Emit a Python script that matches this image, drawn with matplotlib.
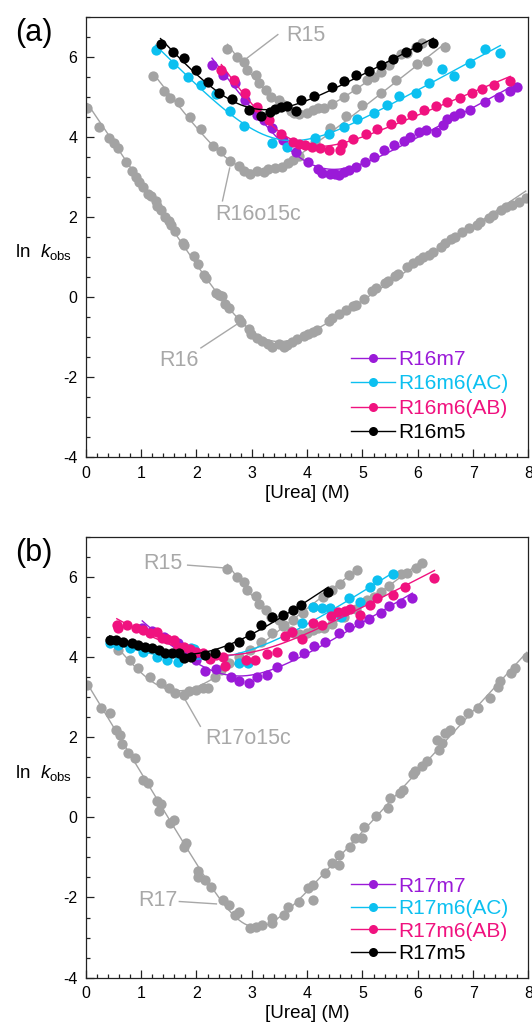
import numpy as np
import matplotlib
matplotlib.use('Agg')
import matplotlib.pyplot as plt
from matplotlib.lines import Line2D
from matplotlib.ticker import MultipleLocator

plt.rcParams['font.family'] = ['Liberation Sans', 'DejaVu Sans']
plt.rcParams['mathtext.fontset'] = 'custom'
plt.rcParams['mathtext.rm'] = 'Liberation Sans'
plt.rcParams['mathtext.it'] = 'Liberation Sans:italic'
plt.rcParams['axes.unicode_minus'] = False

# ---------------- data: panel (a) ----------------
R15_x = [2.56, 2.74, 2.86, 2.92, 3.07, 3.13, 3.25, 3.34, 3.49, 3.58, 3.70, 3.76, 3.86, 3.99,
         4.11, 4.20, 4.30, 4.45, 4.67, 4.88, 5.09, 5.20, 5.33, 5.48, 5.69, 5.80, 5.96, 6.08]
R15_y = [6.19, 5.99, 5.86, 5.66, 5.53, 5.33, 5.16, 5.00, 4.92, 4.80, 4.65, 4.60, 4.58, 4.60,
         4.67, 4.72, 4.72, 4.83, 5.00, 5.20, 5.41, 5.50, 5.62, 5.78, 6.07, 6.10, 6.23, 6.35]

R16_x = [0.03, 0.24, 0.42, 0.51, 0.58, 0.72, 0.84, 0.90, 0.96, 1.04, 1.13, 1.17, 1.26, 1.29, 1.36,
         1.44, 1.50, 1.54, 1.62, 1.75, 1.78, 1.96, 2.02, 2.14, 2.18, 2.36, 2.41, 2.47, 2.51, 2.59,
         2.77, 2.80, 2.95, 2.98, 3.10, 3.19, 3.30, 3.37, 3.50, 3.58, 3.64, 3.72, 3.82, 3.95, 4.02,
         4.10, 4.18, 4.39, 4.45, 4.58, 4.70, 4.82, 4.88, 5.02, 5.18, 5.25, 5.40, 5.47, 5.58, 5.65,
         5.81, 5.92, 6.02, 6.10, 6.20, 6.28, 6.42, 6.50, 6.60, 6.68, 6.80, 6.92, 7.07, 7.12, 7.28,
         7.35, 7.50, 7.60, 7.71, 7.82, 7.95]
R16_y = [4.71, 4.25, 3.96, 3.84, 3.72, 3.38, 3.15, 3.00, 2.88, 2.74, 2.56, 2.51, 2.40, 2.27, 2.18,
         2.00, 1.90, 1.80, 1.64, 1.36, 1.30, 1.02, 0.83, 0.55, 0.48, 0.10, 0.05, 0.02, -0.18, -0.28,
         -0.55, -0.62, -0.80, -0.92, -1.03, -1.10, -1.18, -1.24, -1.18, -1.24, -1.20, -1.13, -1.05, -0.98, -0.93,
         -0.87, -0.82, -0.60, -0.52, -0.42, -0.32, -0.22, -0.19, -0.04, 0.14, 0.22, 0.36, 0.40, 0.52, 0.58,
         0.76, 0.86, 0.93, 0.99, 1.06, 1.12, 1.25, 1.34, 1.45, 1.51, 1.62, 1.72, 1.80, 1.88, 1.97,
         2.05, 2.17, 2.25, 2.30, 2.38, 2.48]

R16o15c_x = [1.22, 1.41, 1.53, 1.68, 1.88, 2.09, 2.30, 2.45, 2.60, 2.76, 2.86, 2.97, 3.10, 3.22, 3.30,
             3.42, 3.55, 3.65, 3.75, 3.86, 4.15, 4.42, 4.70, 5.00, 5.33, 5.60, 5.99, 6.17, 6.50]
R16o15c_y = [5.52, 5.15, 4.96, 4.88, 4.50, 4.20, 3.78, 3.64, 3.40, 3.26, 3.14, 3.08, 3.14, 3.12, 3.20,
             3.22, 3.25, 3.35, 3.42, 3.52, 3.87, 4.22, 4.51, 4.79, 5.08, 5.41, 5.82, 5.88, 6.24]

R16m7_x = [2.28, 2.48, 2.70, 2.88, 3.10, 3.22, 3.37, 3.56, 3.80, 4.02, 4.20, 4.26, 4.41, 4.50, 4.57,
           4.66, 4.76, 4.88, 5.05, 5.20, 5.39, 5.57, 5.75, 5.86, 6.02, 6.14, 6.32, 6.45, 6.53, 6.65,
           6.77, 6.95, 7.22, 7.46, 7.67, 7.80]
R16m7_y = [5.79, 5.54, 5.33, 4.92, 4.54, 4.42, 4.21, 3.92, 3.63, 3.38, 3.20, 3.10, 3.06, 3.06, 3.05,
           3.13, 3.18, 3.25, 3.38, 3.50, 3.66, 3.79, 3.90, 4.00, 4.12, 4.16, 4.13, 4.30, 4.45, 4.52,
           4.60, 4.68, 4.86, 5.00, 5.15, 5.25]

R16m6AC_x = [1.26, 1.57, 1.84, 2.08, 2.36, 2.60, 2.86, 3.36, 3.63, 4.14, 4.39, 4.67, 4.90, 5.21,
             5.44, 5.66, 5.96, 6.20, 6.44, 6.65, 6.95, 7.22, 7.49]
R16m6AC_y = [6.17, 5.82, 5.48, 5.30, 5.06, 4.65, 4.28, 3.85, 3.74, 3.98, 4.08, 4.24, 4.44, 4.60,
             4.80, 5.02, 5.10, 5.35, 5.68, 5.52, 5.84, 6.18, 6.08]

R16m6AB_x = [2.45, 2.67, 2.88, 3.10, 3.31, 3.53, 3.74, 3.86, 3.97, 4.09, 4.24, 4.40, 4.60, 4.63,
             4.82, 5.06, 5.27, 5.51, 5.69, 5.90, 6.11, 6.32, 6.53, 6.77, 6.98, 7.16, 7.37, 7.67]
R16m6AB_y = [5.67, 5.42, 5.08, 4.75, 4.42, 4.08, 3.88, 3.83, 3.80, 3.75, 3.72, 3.66, 3.66, 3.83,
             3.95, 4.08, 4.20, 4.32, 4.44, 4.55, 4.67, 4.77, 4.88, 4.97, 5.10, 5.20, 5.28, 5.40]

R16m5_x = [1.35, 1.57, 1.78, 1.99, 2.20, 2.41, 2.65, 2.95, 3.16, 3.32, 3.42, 3.52, 3.64, 3.80,
           3.89, 4.12, 4.45, 4.67, 4.89, 5.12, 5.33, 5.56, 5.78, 5.99, 6.28]
R16m5_y = [6.31, 6.11, 5.97, 5.66, 5.37, 5.08, 4.94, 4.67, 4.53, 4.62, 4.70, 4.75, 4.78, 4.65,
           4.92, 5.02, 5.23, 5.40, 5.53, 5.65, 5.80, 5.94, 6.11, 6.25, 6.35]

# ---------------- data: panel (b) ----------------
R17_x = [0.03, 0.28, 0.43, 0.55, 0.61, 0.66, 0.77, 0.89, 1.04, 1.13, 1.28, 1.35, 1.32, 1.53, 1.59,
         1.78, 1.81, 2.02, 2.02, 2.15, 2.27, 2.48, 2.58, 2.70, 2.76, 2.97, 3.07, 3.19, 3.37, 3.37,
         3.59, 3.65, 3.86, 4.02, 4.11, 4.11, 4.32, 4.45, 4.57, 4.57, 4.78, 4.87, 5.00, 5.03, 5.24,
         5.46, 5.49, 5.67, 5.73, 5.92, 5.95, 6.07, 6.16, 6.38, 6.44, 6.35, 6.50, 6.59, 6.77, 6.90,
         7.08, 7.30, 7.45, 7.48, 7.69, 7.76, 7.97]
R17_y = [3.30, 2.72, 2.60, 2.18, 2.06, 1.84, 1.60, 1.48, 0.94, 0.86, 0.40, 0.32, 0.15, -0.14, -0.06,
         -0.73, -0.64, -1.35, -1.48, -1.56, -1.73, -2.06, -2.18, -2.43, -2.35, -2.77, -2.73, -2.68, -2.52, -2.64,
         -2.43, -2.23, -2.10, -1.77, -1.68, -2.06, -1.39, -1.14, -1.18, -0.93, -0.73, -0.52, -0.52, -0.23, 0.03,
         0.23, 0.48, 0.61, 0.69, 1.07, 1.15, 1.28, 1.40, 1.69, 1.86, 1.93, 2.10, 2.18, 2.43, 2.60,
         2.72, 2.97, 3.26, 3.39, 3.59, 3.72, 4.00]

R17o15c_x = [0.43, 0.58, 0.80, 0.95, 1.16, 1.35, 1.50, 1.62, 1.78, 1.87, 1.99, 2.12, 2.21, 2.33,
             2.45, 2.58, 2.76, 2.97, 3.16, 3.37, 3.56, 3.74, 3.92, 4.11, 4.29, 4.45, 4.60, 4.75, 4.90]
R17o15c_y = [4.42, 4.17, 3.92, 3.72, 3.51, 3.34, 3.22, 3.10, 3.05, 3.14, 3.18, 3.22, 3.22, 3.51,
             3.68, 3.84, 4.00, 4.17, 4.38, 4.59, 4.76, 4.92, 5.09, 5.25, 5.50, 5.67, 5.83, 6.04, 6.17]

R17m7_x = [1.02, 1.20, 1.41, 1.66, 1.87, 1.99, 2.15, 2.35, 2.62, 2.77, 2.95, 3.10, 3.28, 3.46,
           3.74, 3.95, 4.12, 4.33, 4.57, 4.76, 4.94, 5.12, 5.33, 5.48, 5.69, 5.90]
R17m7_y = [4.72, 4.64, 4.50, 4.34, 4.09, 3.93, 3.65, 3.70, 3.50, 3.40, 3.35, 3.50, 3.55, 3.75,
           4.02, 4.10, 4.28, 4.38, 4.60, 4.75, 4.85, 4.95, 5.10, 5.26, 5.35, 5.47]

R17m6AC_x = [0.43, 0.58, 0.80, 1.04, 1.29, 1.47, 1.66, 1.90, 1.96, 2.76, 2.94, 3.90, 4.11, 4.26,
             4.41, 4.62, 4.76, 4.95, 5.13, 5.26, 5.55]
R17m6AC_y = [4.34, 4.30, 4.22, 4.13, 4.00, 3.93, 3.88, 4.22, 4.20, 3.84, 3.84, 4.84, 5.25, 5.21,
             5.21, 5.00, 5.46, 5.38, 5.75, 5.93, 6.07]

R17m6AB_x = [0.56, 0.58, 0.74, 0.90, 1.04, 1.16, 1.29, 1.37, 1.47, 1.59, 1.66, 1.78, 1.88, 1.99,
             2.12, 2.24, 2.36, 2.48, 2.51, 2.90, 3.05, 3.27, 3.45, 3.60, 3.72, 3.90, 4.11, 4.26,
             4.44, 4.56, 4.68, 4.77, 4.95, 5.13, 5.27, 5.55, 5.77, 6.30]
R17m6AB_y = [4.80, 4.72, 4.80, 4.72, 4.67, 4.60, 4.63, 4.47, 4.46, 4.42, 4.26, 4.26, 4.20, 4.13,
             4.09, 3.95, 4.05, 4.01, 3.78, 3.93, 3.93, 4.07, 4.13, 4.53, 4.61, 4.45, 4.84, 4.80,
             5.02, 5.12, 5.15, 5.20, 5.05, 5.30, 5.46, 5.55, 5.75, 5.98]

R17m5_x = [0.43, 0.55, 0.67, 0.83, 0.95, 1.07, 1.20, 1.32, 1.44, 1.56, 1.69, 1.78, 1.90, 2.15,
           2.33, 2.58, 2.76, 2.97, 3.16, 3.37, 3.56, 3.74, 3.89, 4.38]
R17m5_y = [4.42, 4.42, 4.38, 4.34, 4.30, 4.26, 4.22, 4.17, 4.09, 4.09, 4.09, 3.97, 4.00, 4.05,
           4.09, 4.26, 4.38, 4.55, 4.80, 5.00, 5.05, 5.17, 5.29, 5.63]

LABELS_A = ['R16m7', 'R16m6(AC)', 'R16m6(AB)', 'R16m5']
LABELS_B = ['R17m7', 'R17m6(AC)', 'R17m6(AB)', 'R17m5']

GREY = '#A3A3A3'
TXTGREY = '#A8A8A8'
PURPLE = '#9A1AD8'
CYAN = '#0CC0F0'
MAGENTA = '#F0127F'
BLACK = '#000000'


def chevron_fit(x, y):
    x = np.asarray(x, float)
    y = np.asarray(y, float)
    i = int(np.argmin(y))
    xm = x[i]
    L = x <= xm
    R = x >= xm
    b1, a1 = np.polyfit(x[L], y[L], 1)
    b2, a2 = np.polyfit(x[R], y[R], 1)
    p = np.array([a1, b1, a2, b2], float)

    def model(p, xx):
        return np.logaddexp(p[0] + p[1] * xx, p[2] + p[3] * xx)

    lam = 1e-2
    cost = np.sum((y - model(p, x)) ** 2)
    for _ in range(300):
        u = p[0] + p[1] * x
        v = p[2] + p[3] * x
        w = 1.0 / (1.0 + np.exp(np.clip(v - u, -50, 50)))
        J = np.column_stack([w, w * x, 1 - w, (1 - w) * x])
        r = y - model(p, x)
        A = J.T @ J
        g = J.T @ r
        try:
            dp = np.linalg.solve(A + lam * np.diag(np.diag(A) + 1e-9), g)
        except np.linalg.LinAlgError:
            break
        pn = p + dp
        cn = np.sum((y - model(pn, x)) ** 2)
        if cn < cost:
            p, cost = pn, cn
            lam *= 0.5
        else:
            lam *= 4
    return lambda xx: model(p, xx)


def draw_series(ax, x, y, color, ms=7.4, lw=1.0, z=2):
    f = chevron_fit(x, y)
    xf = np.linspace(min(x), max(x), 300)
    ax.plot(xf, f(xf), color=color, lw=lw, zorder=z)
    ax.plot(x, y, 'o', color=color, ms=ms, mec='none', zorder=z + 0.5)


def style_axes(ax):
    ax.set_xlim(0, 8)
    ax.set_ylim(-4, 7)
    ax.xaxis.set_major_locator(MultipleLocator(1))
    ax.xaxis.set_minor_locator(MultipleLocator(0.2))
    ax.yaxis.set_major_locator(MultipleLocator(2))
    ax.yaxis.set_minor_locator(MultipleLocator(0.5))
    ax.tick_params(which='both', direction='in', top=False, right=False,
                   width=0.9, color='#222222', labelsize=11.5)
    ax.tick_params(which='major', length=6)
    ax.tick_params(which='minor', length=3)
    ax.tick_params(axis='y', pad=6)
    ax.tick_params(axis='x', pad=6)
    for s in ax.spines.values():
        s.set_linewidth(0.9)
        s.set_color('#222222')
    ax.set_xlabel('[Urea] (M)', fontsize=13.5, labelpad=3)


def add_legend(ax, labels, anchor, spacing):
    cols = [PURPLE, CYAN, MAGENTA, BLACK]
    handles = [Line2D([], [], color=c, lw=1.0, marker='o', ms=6.5, mec='none') for c in cols]
    ax.legend(handles, labels, loc='upper left', bbox_to_anchor=anchor,
              frameon=False, fontsize=15, handlelength=2.1, handletextpad=0.15,
              labelspacing=spacing, borderpad=0, borderaxespad=0, numpoints=1,
              labelcolor='linecolor')


def annotate(ax, text, txy, p0, p1):
    ax.text(txy[0], txy[1], text, color=TXTGREY, fontsize=15.5, ha='left', va='center', zorder=6)
    ax.plot([p0[0], p1[0]], [p0[1], p1[1]], color=TXTGREY, lw=1.0, zorder=1)


fig = plt.figure(figsize=(5.32, 10.23), dpi=100)
L, Rr = 0.1613, 0.9934
axa = fig.add_axes([L, 0.553, Rr - L, 0.9838 - 0.553])
axb = fig.add_axes([L, 0.0443, Rr - L, 0.4754 - 0.0443])

# panel (a)
for (x, y) in [(R16_x, R16_y), (R16o15c_x, R16o15c_y), (R15_x, R15_y)]:
    draw_series(axa, x, y, GREY, z=2)
draw_series(axa, R16m7_x, R16m7_y, PURPLE, z=3)
draw_series(axa, R16m6AC_x, R16m6AC_y, CYAN, z=4)
draw_series(axa, R16m6AB_x, R16m6AB_y, MAGENTA, z=5)
draw_series(axa, R16m5_x, R16m5_y, BLACK, z=6)
style_axes(axa)
annotate(axa, 'R15', (3.62, 6.52), (3.47, 6.55), (2.9, 5.95))
annotate(axa, 'R16o15c', (2.34, 2.05), (2.47, 2.40), (2.60, 3.22))
annotate(axa, 'R16', (1.32, -1.58), (2.08, -1.27), (2.73, -0.68))
add_legend(axa, LABELS_A, (0.599, 0.2435), 0.26)

# panel (b)
for (x, y) in [(R17_x, R17_y), (R17o15c_x, R17o15c_y), (R15_x, R15_y)]:
    draw_series(axb, x, y, GREY, z=2)
draw_series(axb, R17m7_x, R17m7_y, PURPLE, z=3)
draw_series(axb, R17m6AC_x, R17m6AC_y, CYAN, z=4)
draw_series(axb, R17m6AB_x, R17m6AB_y, MAGENTA, z=5)
draw_series(axb, R17m5_x, R17m5_y, BLACK, z=6)
style_axes(axb)
annotate(axb, 'R15', (1.04, 6.32), (1.84, 6.29), (2.51, 6.22))
annotate(axb, 'R17o15c', (2.15, 1.96), (2.07, 2.27), (1.78, 2.97))
annotate(axb, 'R17', (0.95, -2.08), (1.69, -2.10), (2.36, -2.16))
add_legend(axb, LABELS_B, (0.599, 0.229), 0.17)

H = 1023.0
fig.text(15 / 532, 1 - 32.5 / H, '(a)', fontsize=22, va='center', ha='left')
fig.text(15 / 532, 1 - 552.5 / H, '(b)', fontsize=22, va='center', ha='left')
fig.text(15 / 532, 1 - 257 / H, r'ln  $k_\mathrm{obs}$', fontsize=13.5, va='baseline', ha='left')
fig.text(15 / 532, 1 - 778 / H, r'ln  $k_\mathrm{obs}$', fontsize=13.5, va='baseline', ha='left')

fig.savefig('out.png', dpi=100)
